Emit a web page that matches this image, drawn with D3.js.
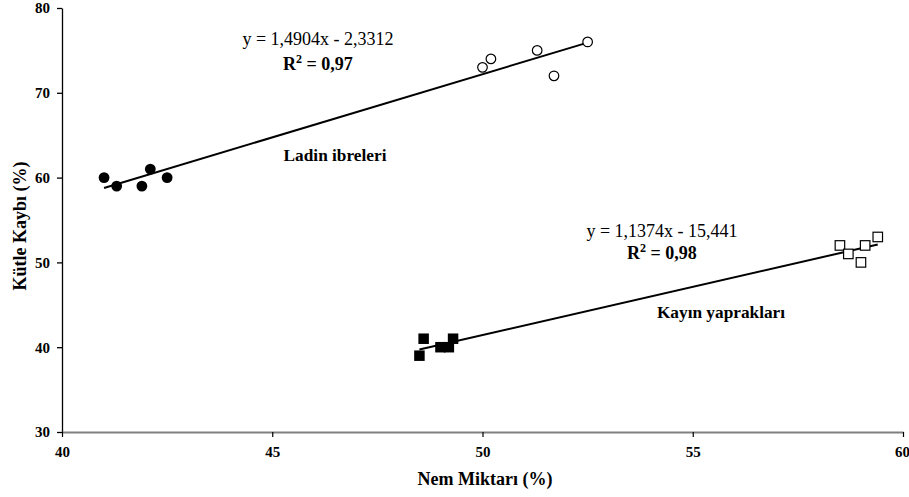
<!DOCTYPE html>
<html>
<head>
<meta charset="utf-8">
<script src="https://cdn.jsdelivr.net/npm/d3@7"></script>
<style>
  body { margin: 0; background: #fff; }
  svg { font-family: "Liberation Serif", "Times New Roman", serif; }
  .tick-label { font-size: 15px; font-weight: bold; }
  .axis-title { font-size: 18px; font-weight: bold; }
  .eq { font-size: 18px; }
  .r2 { font-size: 18px; font-weight: bold; }
  .series-label { font-size: 17.3px; font-weight: bold; }
</style>
</head>
<body>
<div id="chart"></div>
<script>
// Ladin ibreleri (spruce needles)
const ladinFilledX = [41.0, 41.3, 41.9, 42.1, 42.5];
const ladinFilledY = [60, 59, 59, 61, 60];
const ladinOpenX = [50.0, 50.2, 51.3, 51.7, 52.5];
const ladinOpenY = [73, 74, 75, 72, 76];

// Kayın yaprakları (beech leaves)
const kayinFilledX = [48.5, 48.6, 49.0, 49.2, 49.3];
const kayinFilledY = [39, 41, 40, 40, 41];
const kayinOpenX = [58.5, 58.7, 59.1, 59.0, 59.4];
const kayinOpenY = [52, 51, 52, 50, 53];

// trend lines as printed on the chart
const ladinFit = { slope: 1.4904, intercept: -2.3312, from: 41.0, to: 52.5 };
const kayinFit = { slope: 1.1374, intercept: -15.441, from: 48.5, to: 59.4 };

const xTicks = [40, 45, 50, 55, 60];
const yTicks = [30, 40, 50, 60, 70, 80];

const width = 909;
const height = 497;
const margin = { left: 62, right: 6, top: 8, bottom: 65 };

const svg = d3.select('#chart')
  .append('svg')
  .attr('width', width)
  .attr('height', height);

const x = d3.scaleLinear().domain([40, 60]).range([margin.left, width - margin.right]);
const y = d3.scaleLinear().domain([30, 80]).range([height - margin.bottom, margin.top]);

// Y axis (black)
const yAxis = svg.append('g')
  .attr('transform', `translate(${margin.left},0)`)
  .call(d3.axisLeft(y).tickValues(yTicks).tickSize(5).tickPadding(7).tickSizeOuter(0))
  .attr('font-family', null);
yAxis.select('.domain').attr('stroke', '#000').attr('stroke-width', 1.3);
yAxis.selectAll('.tick line').attr('stroke', '#000').attr('stroke-width', 1.3);
yAxis.selectAll('.tick text').attr('class', 'tick-label').attr('fill', '#000');

// X axis (grey base line, black ticks)
const xAxis = svg.append('g')
  .attr('transform', `translate(0,${y(30)})`)
  .call(d3.axisBottom(x).tickValues(xTicks).tickSize(5).tickPadding(9).tickSizeOuter(0))
  .attr('font-family', null);
xAxis.select('.domain').attr('stroke', '#808080').attr('stroke-width', 2);
xAxis.selectAll('.tick line').attr('stroke', '#000').attr('stroke-width', 1.2);
xAxis.selectAll('.tick text').attr('class', 'tick-label').attr('fill', '#000');
// keep the last label inside the window
xAxis.selectAll('.tick text').filter((d) => d === 60).attr('dx', -1);

// axis titles
svg.append('text')
  .attr('class', 'axis-title')
  .attr('text-anchor', 'middle')
  .attr('x', 485)
  .attr('y', 485)
  .text('Nem Miktarı (%)');

svg.append('text')
  .attr('class', 'axis-title')
  .attr('text-anchor', 'middle')
  .attr('transform', `translate(26,${(y(30) + y(80)) / 2 + 6}) rotate(-90)`)
  .text('Kütle Kaybı (%)');

// trend lines
const line = d3.line().x((d) => x(d[0])).y((d) => y(d[1]));
[ladinFit, kayinFit].forEach((f) => {
  svg.append('path')
    .attr('d', line([[f.from, f.slope * f.from + f.intercept], [f.to, f.slope * f.to + f.intercept]]))
    .attr('stroke', '#000')
    .attr('stroke-width', 2)
    .attr('fill', 'none');
});

const zip = (xs, ys) => xs.map((v, i) => [v, ys[i]]);

function circles(data, filled) {
  svg.append('g').selectAll('circle')
    .data(data)
    .enter()
    .append('circle')
    .attr('cx', (d) => x(d[0]))
    .attr('cy', (d) => y(d[1]))
    .attr('r', filled ? 5.4 : 4.8)
    .attr('fill', filled ? '#000' : '#fff')
    .attr('stroke', '#000')
    .attr('stroke-width', filled ? 0 : 1.2);
}

function squares(data, filled) {
  const s = filled ? 10.5 : 9.5;
  svg.append('g').selectAll('rect')
    .data(data)
    .enter()
    .append('rect')
    .attr('x', (d) => x(d[0]) - s / 2)
    .attr('y', (d) => y(d[1]) - s / 2)
    .attr('width', s)
    .attr('height', s)
    .attr('fill', filled ? '#000' : '#fff')
    .attr('stroke', '#000')
    .attr('stroke-width', filled ? 0 : 1.2);
}

circles(zip(ladinFilledX, ladinFilledY), true);
circles(zip(ladinOpenX, ladinOpenY), false);
squares(zip(kayinFilledX, kayinFilledY), true);
squares(zip(kayinOpenX, kayinOpenY), false);

// equations and labels
function equation(cx, by, gap, eq, r2) {
  svg.append('text').attr('class', 'eq').attr('text-anchor', 'middle')
    .attr('x', cx).attr('y', by).text(eq);
  const t = svg.append('text').attr('class', 'r2').attr('text-anchor', 'middle')
    .attr('x', cx).attr('y', by + gap);
  t.append('tspan').text('R');
  t.append('tspan').attr('dy', -7).attr('font-size', 12).text('2');
  t.append('tspan').attr('dy', 7).text(` = ${r2}`);
}

equation(318, 45, 25, 'y = 1,4904x - 2,3312', '0,97');
equation(662, 237, 22, 'y = 1,1374x - 15,441', '0,98');

svg.append('text').attr('class', 'series-label').attr('text-anchor', 'middle')
  .attr('x', 335).attr('y', 161).text('Ladin ibreleri');
svg.append('text').attr('class', 'series-label').attr('text-anchor', 'middle')
  .attr('x', 721).attr('y', 318).text('Kayın yaprakları');
</script>
</body>
</html>
